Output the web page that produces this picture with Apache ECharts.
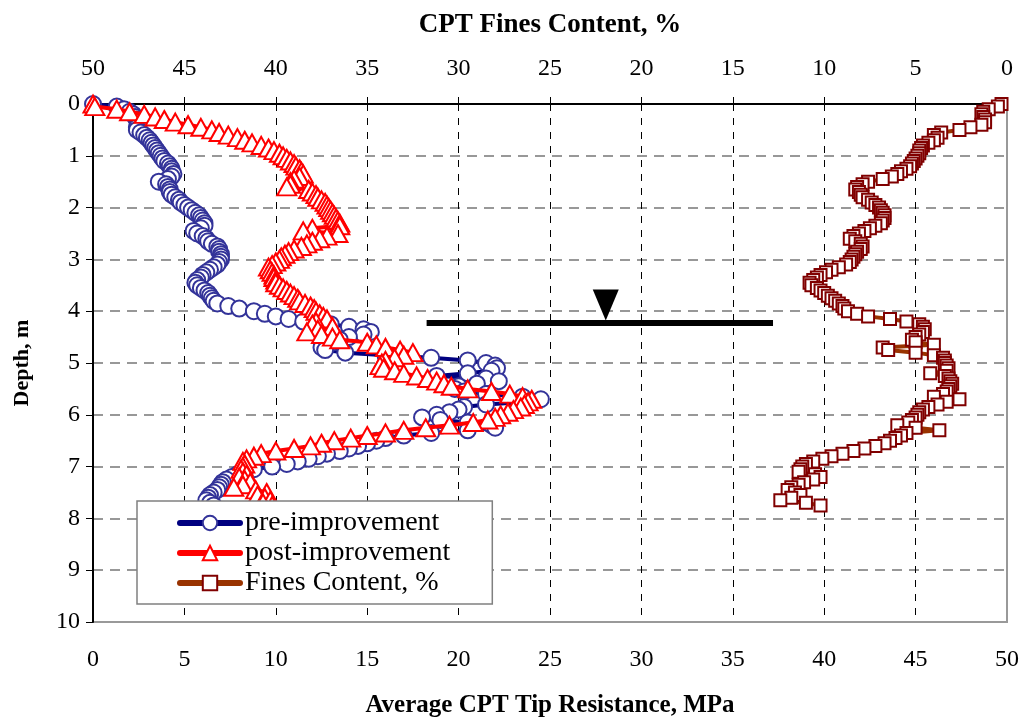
<!DOCTYPE html>
<html>
<head>
<meta charset="utf-8">
<script src="https://cdn.jsdelivr.net/npm/echarts@6/dist/echarts.min.js"></script>
<style>html,body{margin:0;padding:0;background:#fff}#c{width:1024px;height:719px}</style>
</head>
<body>
<div id="c"></div>
<script>
const depth = [0,0.05,0.1,0.15,0.2,0.25,0.3,0.35,0.4,0.45,0.5,0.55,0.6,0.65,0.7,0.75,0.8,0.85,0.9,0.95,
1,1.05,1.1,1.15,1.2,1.25,1.3,1.35,1.4,1.45,1.5,1.55,1.6,1.65,1.7,1.75,1.8,1.85,1.9,1.95,
2,2.05,2.1,2.15,2.2,2.25,2.3,2.35,2.4,2.45,2.5,2.55,2.6,2.65,2.7,2.75,2.8,2.85,2.9,2.95,
3,3.05,3.1,3.15,3.2,3.25,3.3,3.35,3.4,3.45,3.5,3.55,3.6,3.65,3.7,3.75,3.8,3.85,3.9,3.95,
4,4.05,4.1,4.15,4.2,4.25,4.3,4.35,4.4,4.45,4.5,4.55,4.6,4.65,4.7,4.75,4.8,4.85,4.9,4.95,
5,5.05,5.1,5.15,5.2,5.25,5.3,5.35,5.4,5.45,5.5,5.55,5.6,5.65,5.7,5.75,5.8,5.85,5.9,5.95,
6,6.05,6.1,6.15,6.2,6.25,6.3,6.35,6.4,6.45,6.5,6.55,6.6,6.65,6.7,6.75,6.8,6.85,6.9,6.95,
7,7.05,7.1,7.15,7.2,7.25,7.3,7.35,7.4,7.45,7.5,7.55,7.6,7.65,7.7,7.75];

const preImprovement = [0,1.3,1.7,2.0,2.2,2.3,2.4,2.5,2.5,2.4,2.4,2.6,2.8,2.95,3.1,3.2,3.3,3.4,3.5,3.6,
3.7,3.8,3.9,4.1,4.2,4.3,4.3,4.4,4.3,4.1,3.6,4.0,4.1,4.2,4.2,4.3,4.5,4.7,4.8,5.0,
5.2,5.4,5.6,5.8,5.9,6.0,6.1,6.1,5.9,5.5,5.7,6.0,6.2,6.3,6.5,6.8,6.9,6.9,7.0,7.0,
7.0,6.9,6.8,6.6,6.4,6.2,6.0,5.9,5.7,5.6,5.7,5.9,6.1,6.3,6.4,6.5,6.6,6.8,7.4,8.0,
8.8,9.4,10.0,10.7,11.5,13.0,14.0,14.8,15.2,14.8,14.0,13.5,13.2,12.8,12.5,12.7,13.8,16.0,18.5,20.5,
21.5,22.0,22.1,21.8,20.5,18.8,21.5,22.2,21.0,20.0,19.8,20.3,21.5,23.5,24.5,23.8,21.5,20.3,20.0,19.5,
18.8,18.0,19.0,20.5,21.8,22.0,20.5,18.5,17.0,16.0,15.5,15.0,14.5,14.0,13.5,12.8,12.3,11.8,11.2,10.6,
9.8,8.8,8.3,7.9,7.6,7.3,7.1,7.0,6.9,6.8,6.6,6.4,6.3,6.2,6.4,6.6];

const postImprovement = [0,0.1,1.3,2.0,2.8,3.4,3.9,4.5,5.2,5.9,6.5,6.9,7.4,7.9,8.3,8.7,9.2,9.6,9.9,10.2,
10.4,10.6,10.8,11.0,11.1,11.3,11.4,11.5,11.3,11.0,10.8,10.8,10.6,11.8,12.0,12.2,12.3,12.5,12.7,12.8,
12.9,13.0,13.1,13.2,13.3,13.4,13.5,13.5,12.0,11.5,13.4,12.8,12.4,12.0,11.7,11.4,11.0,10.7,10.5,10.3,
10.2,10.0,9.8,9.6,9.7,9.8,9.9,9.9,10.0,10.0,10.2,10.4,10.6,10.8,11.0,11.2,11.3,11.6,11.9,12.1,
12.2,12.4,12.6,12.8,12.2,12.0,13.1,12.3,11.7,12.5,13.1,13.5,15.0,15.5,16.0,16.8,17.5,17.0,16.5,16.0,
15.8,15.7,15.9,16.5,17.0,17.7,18.3,18.8,19.2,19.6,20.5,21.8,22.8,23.5,24.0,23.8,23.6,23.4,23.0,22.7,
22.3,22.0,21.6,20.8,19.5,18.2,17.0,16.0,15.0,14.1,13.2,12.5,11.9,11.0,10.0,9.2,8.8,8.4,8.2,8.3,
8.2,8.1,8.2,8.4,8.0,8.3,8.6,8.2,7.7,8.9,9.5,9.0,9.4,9.7,9.3,9.8];

const finesContent = [0.3,0.5,1.0,1.3,1.4,1.3,1.2,1.2,1.4,2.0,2.6,3.6,4.0,3.8,4.0,4.3,4.6,4.7,4.8,4.8,
4.9,5.0,5.1,5.2,5.3,5.5,5.8,6.0,6.3,6.8,7.6,7.9,8.2,8.3,8.1,8.0,7.9,7.6,7.4,7.2,
7.0,6.9,6.8,6.7,6.7,6.8,6.9,7.2,7.5,7.8,8.1,8.4,8.6,8.3,8.0,7.9,8.0,8.2,8.3,8.4,
8.5,8.6,8.8,9.2,9.6,9.9,10.2,10.4,10.6,10.8,10.7,10.4,10.2,10.0,9.8,9.6,9.4,9.2,9.0,8.9,
8.7,8.2,7.6,6.4,5.5,4.8,4.6,4.5,4.6,4.8,5.0,5.2,5.0,4.0,6.8,6.5,5.0,4.0,3.5,3.4,
3.4,3.3,3.2,3.3,4.2,3.4,3.2,3.1,3.0,3.1,3.2,3.3,3.5,4.0,2.6,3.3,3.8,4.3,4.6,4.8,
4.9,5.0,5.2,5.4,6.0,5.0,3.7,5.5,5.8,6.1,6.4,6.7,7.2,7.8,8.4,9.0,9.6,10.1,10.6,11.0,
11.2,11.3,11.4,10.5,10.2,10.6,11.1,11.4,11.8,12.0,11.6,11.3,11.8,12.4,11.0,10.2];

const seriesNames = ['pre-improvement', 'post-improvement', 'Fines Content, %'];
const waterTableDepth = 4.23;
const waterTableSpan = [18.25, 37.2];
const waterMarker = [28.05, 3.88];
const bottomTicks = ['0','5','10','15','20','25','30','35','40','45','50'];

function pairs(vals) { return vals.map((v, i) => [v, depth[i]]); }

const serif = 'Liberation Serif';
const chart = echarts.init(document.getElementById('c'), null, {renderer: 'canvas'});
chart.setOption({
  animation: false,
  backgroundColor: '#fff',
  grid: {left: 93, top: 104, width: 914, height: 518, outerBoundsMode: 'none', containLabel: false,
         show: true, borderColor: '#999', borderWidth: 2, backgroundColor: 'transparent'},
  legend: {
    data: seriesNames,
    orient: 'vertical',
    left: 137, top: 501,
    padding: [8, 42, 7, 40],
    itemGap: 2,
    itemWidth: 60, itemHeight: 18,
    backgroundColor: '#fff',
    borderColor: '#808080', borderWidth: 1.5, borderRadius: 0,
    lineStyle: {width: 6, cap: 'round'},
    textStyle: {fontFamily: serif, fontSize: 28, color: '#000', padding: [0,0,0,0]},
    selectedMode: false
  },
  xAxis: [
    {
      type: 'value', position: 'bottom', min: 0, max: 50, interval: 5,
      name: 'Average CPT Tip Resistance, MPa', nameLocation: 'middle', nameGap: 71,
      nameTextStyle: {fontFamily: serif, fontSize: 25, fontWeight: 'bold', color: '#000'},
      axisLine: {show: true, lineStyle: {color: '#000', width: 2}},
      axisTick: {show: true, inside: false, length: 7, lineStyle: {color: '#000', width: 1}},
      axisLabel: {fontFamily: serif, fontSize: 24, color: '#000', margin: 26, formatter: (v) => bottomTicks[Math.round(v / 5)]},
      splitLine: {show: true, showMinLine: false, showMaxLine: false, lineStyle: {color: '#000', type: [7, 7], width: 1}}
    },
    {
      type: 'value', position: 'top', min: 0, max: 50, interval: 5, inverse: true,
      name: 'CPT Fines Content, %', nameLocation: 'middle', nameGap: 65,
      nameTextStyle: {fontFamily: serif, fontSize: 27, fontWeight: 'bold', color: '#000'},
      axisLine: {show: true, lineStyle: {color: '#000', width: 2}},
      axisTick: {show: true, inside: false, length: 7, lineStyle: {color: '#000', width: 1}},
      axisLabel: {fontFamily: serif, fontSize: 24, color: '#000', margin: 23},
      splitLine: {show: false}
    }
  ],
  yAxis: {
    type: 'value', min: 0, max: 10, interval: 1, inverse: true,
    name: 'Depth, m', nameLocation: 'middle', nameGap: 60, nameRotate: 90,
    nameTextStyle: {fontFamily: serif, fontSize: 22, fontWeight: 'bold', color: '#000'},
    axisLine: {show: true, lineStyle: {color: '#000', width: 2}},
    axisTick: {show: true, inside: false, length: 7, lineStyle: {color: '#000', width: 1}},
    axisLabel: {fontFamily: serif, fontSize: 24, color: '#000', margin: 13},
    splitLine: {show: true, showMinLine: false, showMaxLine: false, lineStyle: {color: '#777', type: [10, 7], width: 1.5}}
  },
  series: [
    {
      name: seriesNames[0], type: 'line', xAxisIndex: 0, yAxisIndex: 0,
      data: pairs(preImprovement), showAllSymbol: true,
      symbol: 'circle', symbolSize: 16,
      lineStyle: {color: '#000080', width: 4},
      itemStyle: {color: '#fff', borderColor: '#333399', borderWidth: 2},
      z: 2
    },
    {
      name: seriesNames[1], type: 'line', xAxisIndex: 0, yAxisIndex: 0,
      data: pairs(postImprovement), showAllSymbol: true,
      symbol: 'triangle', symbolSize: [19, 17],
      lineStyle: {color: '#ff0000', width: 4},
      itemStyle: {color: '#fff', borderColor: '#ff0000', borderWidth: 2},
      z: 3
    },
    {
      name: seriesNames[2], type: 'line', xAxisIndex: 1, yAxisIndex: 0,
      data: pairs(finesContent), showAllSymbol: true,
      symbol: 'rect', symbolSize: 12,
      lineStyle: {color: '#993300', width: 4},
      itemStyle: {color: '#fff', borderColor: '#800000', borderWidth: 2},
      z: 3
    },
    {
      name: 'water table', type: 'line', xAxisIndex: 0, yAxisIndex: 0,
      data: [[waterTableSpan[0], waterTableDepth], [waterTableSpan[1], waterTableDepth]],
      symbol: 'none', lineStyle: {color: '#000', width: 6}, silent: true, z: 4
    },
    {
      name: 'water marker', type: 'scatter', xAxisIndex: 0, yAxisIndex: 0,
      data: [waterMarker], symbol: 'triangle', symbolRotate: 180, symbolSize: [26, 31],
      itemStyle: {color: '#000', opacity: 1}, silent: true, z: 4
    }
  ]
});
</script>
</body>
</html>
